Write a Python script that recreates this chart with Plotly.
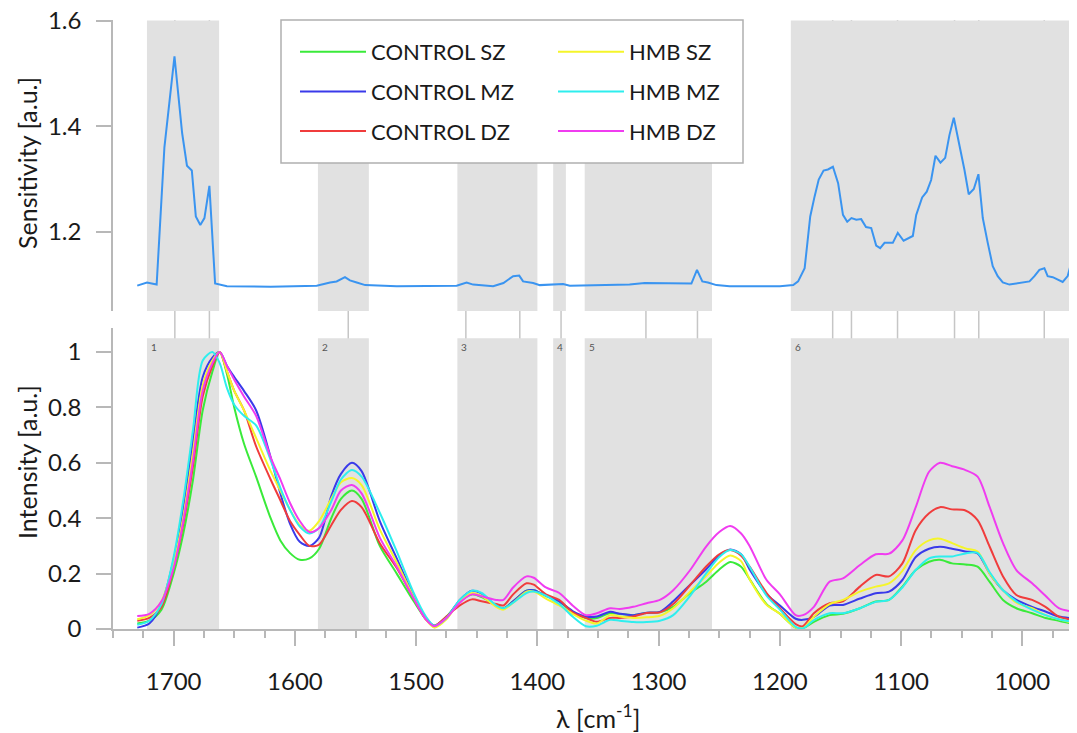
import plotly.graph_objects as go

# ---------------- data ----------------
# Sensitivity (top panel)
sens_wn = [1730, 1722, 1714, 1707.6, 1699.3, 1693, 1689, 1685, 1681.7, 1678, 1674.6, 1670.5, 1665.8, 1656, 1620,
           1582, 1571, 1565.6, 1558.7, 1554.6, 1549, 1542, 1516, 1466.6, 1458.4, 1453, 1436.5, 1428, 1420, 1415,
           1411.8, 1403.5, 1398, 1378.8, 1373.3, 1324, 1311.5, 1273, 1268.4, 1264, 1259.4, 1252.4, 1241.5, 1200, 1189,
           1185, 1179.6, 1175, 1171.4, 1168, 1164, 1160.4, 1156.3, 1152, 1148, 1144.5, 1141, 1137, 1133, 1129,
           1124.7, 1120.6, 1117.3, 1113.7, 1106.9, 1102.8, 1098, 1090.4, 1087.6, 1082.7, 1078.9, 1075.3, 1071.7, 1067.6, 1063.7,
           1060.2, 1056.6, 1052, 1047.8, 1044.3, 1040.1, 1036.3, 1032.7, 1028.6, 1024.5, 1020.4, 1016.2, 1010.7, 1002.5, 994.2,
           990.1, 986, 981.9, 979.2, 975, 966.8, 962.7, 959]
sens_val = [1.098, 1.104, 1.100, 1.36, 1.532, 1.387, 1.325, 1.316, 1.229, 1.213, 1.226, 1.287, 1.102, 1.097, 1.096,
            1.098, 1.104, 1.106, 1.114, 1.108, 1.104, 1.099, 1.097, 1.098, 1.104, 1.100, 1.097, 1.103, 1.116, 1.117,
            1.106, 1.103, 1.099, 1.101, 1.098, 1.100, 1.103, 1.102, 1.128, 1.106, 1.104, 1.099, 1.097, 1.097, 1.099,
            1.106, 1.131, 1.229, 1.267, 1.299, 1.316, 1.318, 1.323, 1.292, 1.232, 1.219, 1.226, 1.223, 1.224, 1.209,
            1.207, 1.174, 1.169, 1.179, 1.179, 1.198, 1.183, 1.192, 1.232, 1.265, 1.276, 1.298, 1.344, 1.331, 1.340,
            1.383, 1.416, 1.367, 1.317, 1.271, 1.281, 1.309, 1.226, 1.179, 1.135, 1.116, 1.104, 1.100, 1.103, 1.106,
            1.116, 1.128, 1.131, 1.116, 1.114, 1.105, 1.116, 1.148]

# Intensity spectra (bottom panel)
wn = [1730, 1720, 1710, 1700, 1692, 1684, 1676, 1668, 1662, 1656,
      1650, 1642, 1632, 1620, 1612, 1604, 1596, 1588, 1580,
      1570, 1562, 1553, 1545, 1530, 1516, 1502, 1492, 1485, 1475,
      1464, 1454, 1446, 1434, 1428, 1420, 1409, 1403, 1393, 1382,
      1371, 1360, 1351, 1340, 1332, 1321, 1310, 1299, 1288, 1274,
      1261, 1250, 1241, 1232, 1225, 1211, 1200, 1187, 1181, 1172,
      1159, 1148, 1134, 1121, 1110, 1099, 1088, 1077, 1068, 1058,
      1047, 1037, 1027, 1016, 1005, 992, 981, 970, 958]

control_sz = [0.02, 0.03, 0.07, 0.2, 0.345, 0.54, 0.79, 0.93, 1.0, 0.92,
              0.8, 0.67, 0.55, 0.40, 0.32, 0.274, 0.25, 0.255, 0.29,
              0.40, 0.47, 0.50, 0.47, 0.30, 0.2, 0.1, 0.035, 0.012, 0.045,
              0.1, 0.125, 0.115, 0.085, 0.075, 0.1, 0.138, 0.14, 0.12, 0.1,
              0.06, 0.04, 0.04, 0.058, 0.054, 0.05, 0.058, 0.06, 0.08, 0.13,
              0.17, 0.215, 0.242, 0.225, 0.18, 0.09, 0.055, 0.005, 0.003, 0.026,
              0.05, 0.055, 0.075, 0.099, 0.105, 0.153, 0.213, 0.243, 0.25, 0.237,
              0.233, 0.225, 0.17, 0.105, 0.075, 0.057, 0.04, 0.03, 0.018]
control_mz = [0.005, 0.02, 0.09, 0.25, 0.44, 0.68, 0.91, 0.98, 1.0, 0.95,
              0.91, 0.86, 0.79, 0.62, 0.49, 0.38, 0.315, 0.30, 0.33,
              0.48, 0.56, 0.60, 0.57, 0.39, 0.255, 0.12, 0.04, 0.012, 0.04,
              0.105, 0.138, 0.128, 0.083, 0.073, 0.1, 0.138, 0.14, 0.12, 0.1,
              0.065, 0.045, 0.045, 0.062, 0.055, 0.05, 0.059, 0.062, 0.1, 0.16,
              0.215, 0.265, 0.287, 0.27, 0.215, 0.126, 0.085, 0.037, 0.033, 0.044,
              0.085, 0.087, 0.11, 0.129, 0.135, 0.177, 0.26, 0.29, 0.297, 0.29,
              0.28, 0.273, 0.2, 0.14, 0.105, 0.08, 0.063, 0.045, 0.038]
control_dz = [0.03, 0.04, 0.08, 0.22, 0.38, 0.59, 0.84, 0.95, 1.0, 0.93,
              0.86, 0.79, 0.66, 0.54, 0.465, 0.39, 0.34, 0.30, 0.305,
              0.375, 0.43, 0.462, 0.44, 0.31, 0.22, 0.11, 0.035, 0.012, 0.045,
              0.085, 0.107, 0.10, 0.09, 0.085, 0.125, 0.165, 0.16, 0.125, 0.105,
              0.06, 0.04, 0.026, 0.04, 0.04, 0.045, 0.058, 0.06, 0.09, 0.159,
              0.225, 0.27, 0.285, 0.265, 0.225, 0.13, 0.075, 0.018, 0.01, 0.057,
              0.093, 0.1, 0.153, 0.195, 0.19, 0.237, 0.357, 0.418, 0.44, 0.432,
              0.428, 0.393, 0.297, 0.19, 0.123, 0.105, 0.08, 0.045, 0.033]
hmb_sz = [0.035, 0.05, 0.1, 0.24, 0.405, 0.64, 0.88, 0.97, 1.0, 0.93,
          0.86, 0.79, 0.69, 0.57, 0.50, 0.43, 0.375, 0.355, 0.39,
          0.47, 0.53, 0.545, 0.52, 0.36, 0.24, 0.115, 0.035, 0.005, 0.035,
          0.1, 0.13, 0.12, 0.08, 0.07, 0.095, 0.135, 0.135, 0.11, 0.085,
          0.055, 0.03, 0.02, 0.05, 0.045, 0.04, 0.042, 0.048, 0.075, 0.135,
          0.19, 0.24, 0.265, 0.245, 0.18, 0.087, 0.055, 0.005, 0.003, 0.044,
          0.09, 0.105, 0.135, 0.153, 0.165, 0.21, 0.285, 0.32, 0.326, 0.31,
          0.291, 0.28, 0.2, 0.14, 0.095, 0.075, 0.05, 0.035, 0.022]
hmb_mz = [0.015, 0.03, 0.09, 0.26, 0.466, 0.72, 0.97, 1.0, 0.96, 0.87,
          0.81, 0.77, 0.735, 0.61, 0.51, 0.43, 0.37, 0.345, 0.365,
          0.46, 0.54, 0.574, 0.55, 0.42, 0.28, 0.13, 0.045, 0.012, 0.04,
          0.105, 0.138, 0.13, 0.085, 0.075, 0.095, 0.13, 0.135, 0.12, 0.09,
          0.045, 0.01, 0.012, 0.033, 0.03, 0.025, 0.025, 0.03, 0.05, 0.12,
          0.2, 0.26, 0.285, 0.27, 0.225, 0.12, 0.07, 0.008, 0.002, 0.032,
          0.057, 0.057, 0.075, 0.098, 0.105, 0.15, 0.213, 0.255, 0.262, 0.262,
          0.273, 0.275, 0.205, 0.14, 0.1, 0.07, 0.05, 0.035, 0.025]
hmb_dz = [0.047, 0.055, 0.1, 0.22, 0.39, 0.61, 0.86, 0.96, 1.0, 0.95,
          0.9, 0.84, 0.77, 0.62, 0.54, 0.455, 0.39, 0.35, 0.365,
          0.43, 0.50, 0.52, 0.49, 0.33, 0.225, 0.11, 0.035, 0.01, 0.04,
          0.095, 0.125, 0.118, 0.105, 0.105, 0.15, 0.19, 0.185, 0.15, 0.13,
          0.085, 0.05, 0.057, 0.075, 0.072, 0.08, 0.093, 0.105, 0.14, 0.213,
          0.297, 0.35, 0.372, 0.345, 0.3, 0.177, 0.125, 0.05, 0.05, 0.08,
          0.171, 0.183, 0.231, 0.27, 0.272, 0.32, 0.44, 0.568, 0.6, 0.588,
          0.574, 0.55, 0.44, 0.31, 0.213, 0.165, 0.12, 0.075, 0.062]

series_names = ["CONTROL SZ", "CONTROL MZ", "CONTROL DZ", "HMB SZ", "HMB MZ", "HMB DZ"]
series_values = [control_sz, control_mz, control_dz, hmb_sz, hmb_mz, hmb_dz]
series_colors = ["#3aea3a", "#3a3aea", "#f03c3c", "#f5f52a", "#2eeeee", "#f03cf0"]

# Spectral bands (grey regions) and marker lines
band_labels = ["1", "2", "3", "4", "5", "6"]
band_start = [1722, 1581, 1466, 1387, 1361, 1191]
band_end = [1662.5, 1539, 1400, 1376.5, 1256, 959]
marker_wn = [1699, 1670.5, 1556, 1459, 1414.5, 1380.5, 1310.5, 1268, 1156.5, 1141, 1103, 1056, 1036, 982]

x_ticks = [1700, 1600, 1500, 1400, 1300, 1200, 1100, 1000]

# ---------------- figure ----------------
FONT = "Lato, 'Open Sans', sans-serif"
TEXT = "#1a1a1a"
AXIS_GREY = "#b8b8b8"
BAND_GREY = "#e1e1e1"
LINE_GREY = "#c6c6c6"

PAGE_OFF = 8                      # default body margin of the html page
W, H = 1077 - PAGE_OFF, 733 - PAGE_OFF
ML, MR, MT, MB = 113 - PAGE_OFF, 0, 20 - PAGE_OFF, 104
plot_w = W - ML - MR
plot_h = H - MT - MB


def py2paper(py):          # page pixel -> paper y
    return (H - MB - (py - PAGE_OFF)) / plot_h


def px2paper(px):          # page pixel -> paper x
    return (px - PAGE_OFF - ML) / plot_w


bottom_dom = [0, py2paper(328)]
top_dom = [py2paper(311), 1]

fig = go.Figure()

fig.add_trace(go.Scatter(x=sens_wn, y=sens_val, mode="lines", xaxis="x", yaxis="y2",
                         line=dict(color="#3a94f0", width=2), showlegend=False))

for i, (name, vals, col) in enumerate(zip(series_names, series_values, series_colors)):
    fig.add_trace(go.Scatter(
        x=wn, y=vals, mode="lines", name=name, xaxis="x", yaxis="y",
        line=dict(color=col, width=2, shape="spline", smoothing=0.8),
        legend="legend" if i < 3 else "legend2", legendgroup=name,
    ))

shapes = []
for s, e in zip(band_start, band_end):
    shapes.append(dict(type="rect", xref="x", yref="y2", x0=s, x1=e, y0=1.05, y1=1.6,
                       fillcolor=BAND_GREY, line=dict(width=0), layer="below"))
    shapes.append(dict(type="rect", xref="x", yref="y", x0=s, x1=e, y0=0, y1=1.05,
                       fillcolor=BAND_GREY, line=dict(width=0), layer="below"))
for m in marker_wn:
    shapes.append(dict(type="line", xref="x", yref="paper", x0=m, x1=m, y0=0, y1=1,
                       line=dict(color=LINE_GREY, width=1.5), layer="below"))
# legend frame
shapes.append(dict(type="rect", xref="paper", yref="paper",
                   x0=px2paper(281), x1=px2paper(743),
                   y0=py2paper(163), y1=py2paper(20),
                   fillcolor="white", line=dict(color="#b0b0b0", width=1.5), layer="above"))

annotations = []
for lab, s in zip(band_labels, band_start):
    annotations.append(dict(x=s, y=1.02, xref="x", yref="y", text=lab, showarrow=False,
                            xanchor="left", yanchor="middle", xshift=2,
                            font=dict(family=FONT, size=10, color="#555555")))
annotations.append(dict(x=px2paper(27), y=py2paper(163), xref="paper", yref="paper",
                        text="Sensitivity [a.u.]", textangle=-90, showarrow=False,
                        xanchor="center", yanchor="middle",
                        font=dict(family=FONT, size=25, color=TEXT)))
annotations.append(dict(x=px2paper(27), y=py2paper(462), xref="paper", yref="paper",
                        text="Intensity [a.u.]", textangle=-90, showarrow=False,
                        xanchor="center", yanchor="middle",
                        font=dict(family=FONT, size=25, color=TEXT)))
annotations.append(dict(x=px2paper(598), y=py2paper(716), xref="paper", yref="paper",
                        text="λ [cm<sup>-1</sup>]", showarrow=False,
                        xanchor="center", yanchor="middle",
                        font=dict(family=FONT, size=25, color=TEXT)))

legend_common = dict(yanchor="top", xanchor="left", bgcolor="rgba(0,0,0,0)", borderwidth=0,
                     font=dict(family=FONT, size=22, color=TEXT), tracegroupgap=8,
                     orientation="v", itemwidth=66)

axis_common = dict(showgrid=False, zeroline=False, showline=True, linecolor=AXIS_GREY, linewidth=1.5,
                   ticks="outside", ticklen=15, tickwidth=1.5, tickcolor=AXIS_GREY,
                   tickfont=dict(family=FONT, size=24, color=TEXT), automargin=False,
                   ticklabeloverflow="allow")

fig.update_layout(
    width=W, height=H,
    margin=dict(l=ML, r=MR, t=MT, b=MB, autoexpand=False),
    paper_bgcolor="white", plot_bgcolor="white",
    font=dict(family=FONT, size=24, color=TEXT),
    shapes=shapes, annotations=annotations,
    legend=dict(x=px2paper(295), y=py2paper(31), **legend_common),
    legend2=dict(x=px2paper(553), y=py2paper(31), **legend_common),
    xaxis=dict(range=[1750, 955], anchor="y", tickmode="array", tickvals=x_ticks,
               ticklabelstandoff=15,
               minor=dict(dtick=25, tick0=1750, ticks="outside", ticklen=7, tickwidth=1.5,
                          tickcolor=AXIS_GREY, showgrid=False),
               **axis_common),
    yaxis=dict(domain=bottom_dom, range=[0, 1.087], anchor="x",
               tickmode="array", tickvals=[0, 0.2, 0.4, 0.6, 0.8, 1.0],
               ticktext=["0", "0.2", "0.4", "0.6", "0.8", "1"],
               ticklabelstandoff=10, **axis_common),
    yaxis2=dict(domain=top_dom, range=[1.05, 1.601], anchor="x",
                tickmode="array", tickvals=[1.2, 1.4, 1.6],
                ticklabelstandoff=10, **axis_common),
)

fig.write_html("out.html")
